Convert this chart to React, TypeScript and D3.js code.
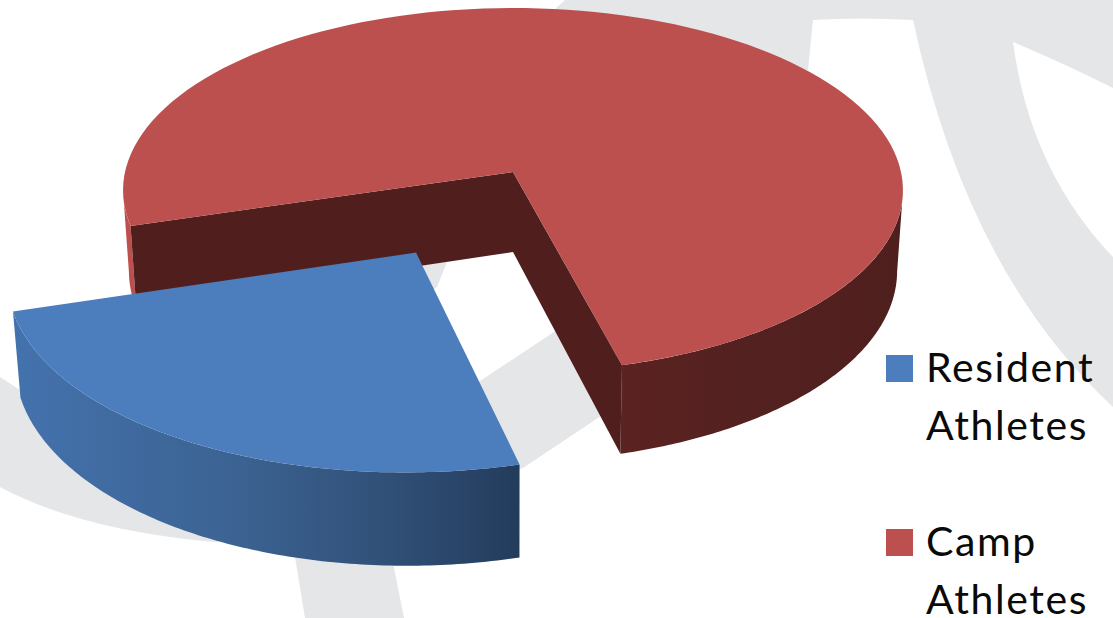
import React from 'react';
import * as d3 from 'd3';

// Series
const categories = ['Resident Athletes', 'Camp Athletes'];
const shares = [24.4, 75.6];
const legendLines = [['Resident', 'Athletes'], ['Camp', 'Athletes']];
const sliceTop = ['#4c7dbc', '#bc504e'];
const explode = [0.49, 0];

// Canvas and perspective disc
const W = 1113;
const H = 618;
const disc = { cx: 513, cy: 172, a: 388, b: 180.4, p: 0.1, depth: 80, taper: 0.985 };
const START_DEG = 165.3;
const DEG = Math.PI / 180;

type P = [number, number];

// Watermark outlines: a two-point run is a straight edge, a three-point run is a
// quadratic curve whose middle point is the control point.
const swooshUpper: P[][] = [
  [[565, 0], [1113, 0]],
  [[1113, 0], [1113, 88]],
  [[1113, 88], [1063, 63], [1013, 42]],
  [[1013, 42], [1030, 170], [1113, 257]],
  [[1113, 257], [1113, 407]],
  [[1113, 407], [967, 272], [913, 20]],
  [[913, 20], [860, 17], [813, 20]],
  [[813, 20], [808, 70]],
  [[808, 70], [700, 120]],
  [[700, 120], [555, 9]],
];
const swooshLower: P[][] = [
  [[0, 377], [20, 390]],
  [[20, 390], [250, 520]],
  [[250, 520], [480, 381]],
  [[480, 381], [590, 308]],
  [[590, 308], [640, 390]],
  [[640, 390], [523, 468]],
  [[523, 468], [300, 530]],
  [[300, 530], [214, 542]],
  [[214, 542], [80, 530], [0, 487]],
];
const stem: P[][] = [
  [[285, 500], [295, 557]],
  [[295, 557], [305, 618]],
  [[305, 618], [404, 618]],
  [[404, 618], [393, 563]],
  [[393, 563], [385, 500]],
];
const sliver: P[][] = [[[423, 265], [447, 262]], [[447, 262], [437, 287]], [[437, 287], [430, 292]]];

const straight = d3.line<P>();

function outline(runs: P[][]): string {
  const path = d3.path();
  runs.forEach((r, i) => {
    if (i === 0) path.moveTo(r[0][0], r[0][1]);
    if (r.length === 3) path.quadraticCurveTo(r[1][0], r[1][1], r[2][0], r[2][1]);
    else path.lineTo(r[1][0], r[1][1]);
  });
  path.closePath();
  return path.toString();
}

// Plane position (u right, v toward the viewer) mapped to the screen; h lowers it by the disc thickness.
function project(u: number, v: number, h = 0): P {
  const w = 1 - disc.p * v;
  const k = h ? disc.taper : 1;
  return [disc.cx + (disc.a * u * k) / w, disc.cy + (disc.b * v + h) / w];
}

function rim(t0: number, t1: number, ox: number, oy: number, h: number): P[] {
  const n = 120;
  return d3.range(n + 1).map((i) => {
    const t = t0 + ((t1 - t0) * i) / n;
    return project(Math.sin(t) + ox, -Math.cos(t) + oy, h);
  });
}

function wallBetween(t0: number, t1: number, ox: number, oy: number): string {
  const upper = rim(t0, t1, ox, oy, 0);
  const lower = rim(t0, t1, ox, oy, disc.depth);
  return straight([...upper, ...lower.reverse()])! + 'Z';
}

const pieAngles = d3
  .pie<number>()
  .sort(null)
  .startAngle(START_DEG * DEG)
  .endAngle((START_DEG + 360) * DEG)(shares);

const slices = pieAngles.map((a, i) => {
  const mid = (a.startAngle + a.endAngle) / 2;
  const ox = explode[i] * Math.sin(mid);
  const oy = -explode[i] * Math.cos(mid);
  const topArc = rim(a.startAngle, a.endAngle, ox, oy, 0);
  const botArc = rim(a.startAngle, a.endAngle, ox, oy, disc.depth);
  const apex = project(ox, oy);
  const apexLow = project(ox, oy, disc.depth);
  return {
    name: categories[i],
    start: a.startAngle,
    end: a.endAngle,
    ox,
    oy,
    top: straight([apex, ...topArc])! + 'Z',
    cutA: straight([apex, topArc[0], botArc[0], apexLow])! + 'Z',
    cutB: straight([apex, topArc[topArc.length - 1], botArc[botArc.length - 1], apexLow])! + 'Z',
  };
});

const [resident, camp] = slices;

// Side walls run only between the silhouette tangents of the rim.
const residentWall = wallBetween(resident.start, resident.end, resident.ox, resident.oy);
const campWallLeft = wallBetween(camp.start, 264 * DEG, 0, 0);
const campWallRight = wallBetween(456 * DEG, camp.end, 0, 0);

const legendY = [355, 529];
const baselineStep = 58;

export default function App() {
  return (
    <svg
      width={W}
      height={H}
      viewBox={`0 0 ${W} ${H}`}
      style={{ position: 'absolute', left: 0, top: 0, display: 'block', background: '#ffffff' }}
    >
      <defs>
        <linearGradient id="blueWall" gradientUnits="userSpaceOnUse" x1={15} x2={520} y1={0} y2={0}>
          <stop offset="0" stopColor="#4472ad" />
          <stop offset="0.45" stopColor="#3b6291" />
          <stop offset="0.75" stopColor="#304f76" />
          <stop offset="1" stopColor="#233c5c" />
        </linearGradient>
        <linearGradient id="redWall" gradientUnits="userSpaceOnUse" x1={600} x2={903} y1={0} y2={0}>
          <stop offset="0" stopColor="#5c2321" />
          <stop offset="0.5" stopColor="#532120" />
          <stop offset="1" stopColor="#4f1f1d" />
        </linearGradient>
      </defs>

      <g fill="#e5e6e8">
        <path d={outline(swooshUpper)} />
        <path d={outline(swooshLower)} />
        <path d={outline(stem)} />
        <path d={outline(sliver)} />
      </g>

      <g>
        <path d={campWallLeft} fill={sliceTop[1]} />
        <path d={campWallRight} fill="url(#redWall)" />
        <path d={camp.cutA} fill="#501f1d" />
        <path d={camp.cutB} fill="#501f1d" />
        <path d={camp.top} fill={sliceTop[1]} />
      </g>
      <g>
        <path d={residentWall} fill="url(#blueWall)" />
        <path d={resident.top} fill={sliceTop[0]} />
      </g>

      <g fontFamily="Lato, 'Open Sans', sans-serif" fontSize={41} letterSpacing={1.6} fill="#0a0a0a">
        {legendLines.map((lines, i) => (
          <g key={categories[i]}>
            <rect x={886} y={legendY[i]} width={27} height={27} fill={sliceTop[i]} />
            {lines.map((t, j) => (
              <text key={j} x={926} y={legendY[i] + 27 + j * baselineStep}>
                {t}
              </text>
            ))}
          </g>
        ))}
      </g>
    </svg>
  );
}
